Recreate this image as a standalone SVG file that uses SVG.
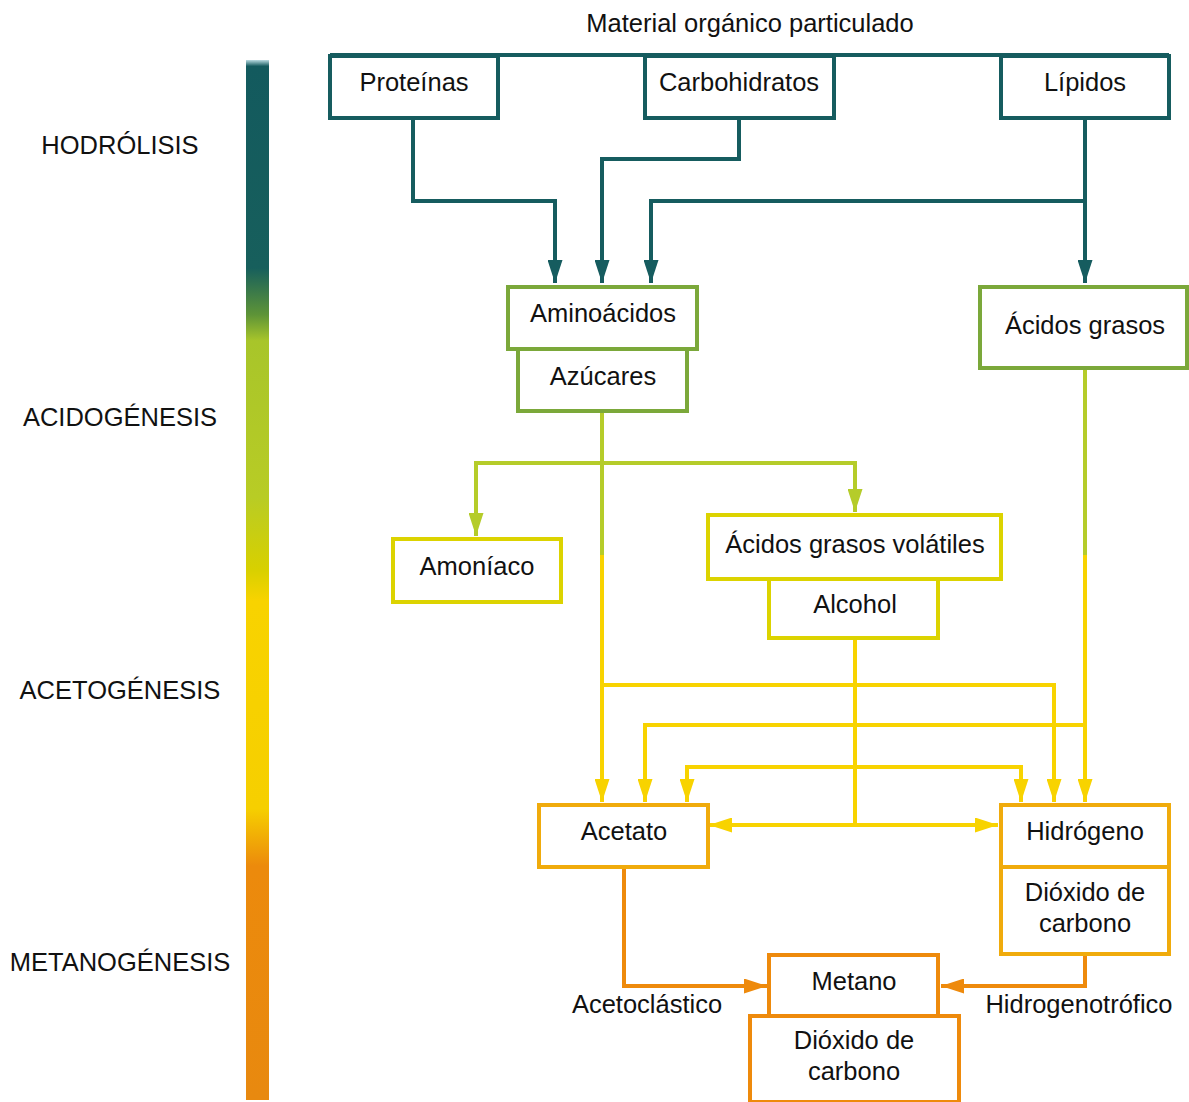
<svg xmlns="http://www.w3.org/2000/svg" width="1189" height="1102" viewBox="0 0 1189 1102">
<defs>
<linearGradient id="bar" x1="0" y1="60" x2="0" y2="1100" gradientUnits="userSpaceOnUse">
<stop offset="0" stop-color="#b9dbe2"/>
<stop offset="0.006" stop-color="#135a5e"/>
<stop offset="0.2" stop-color="#175f5c"/>
<stop offset="0.245" stop-color="#5e9437"/>
<stop offset="0.27" stop-color="#a8c52a"/>
<stop offset="0.42" stop-color="#b8cc25"/>
<stop offset="0.49" stop-color="#d8d000"/>
<stop offset="0.52" stop-color="#f8d300"/>
<stop offset="0.72" stop-color="#f6cf00"/>
<stop offset="0.775" stop-color="#ec8a0c"/>
<stop offset="1" stop-color="#e8890f"/>
</linearGradient>
<marker id="aT" viewBox="0 0 23 15" refX="23" refY="7.5" markerWidth="23" markerHeight="15" markerUnits="userSpaceOnUse" orient="auto-start-reverse"><path d="M0,0 L23,7.5 L0,15 z" fill="#165c5f"/></marker>
<marker id="aG" viewBox="0 0 23 15" refX="23" refY="7.5" markerWidth="23" markerHeight="15" markerUnits="userSpaceOnUse" orient="auto-start-reverse"><path d="M0,0 L23,7.5 L0,15 z" fill="#b5cc2a"/></marker>
<marker id="aY" viewBox="0 0 23 15" refX="23" refY="7.5" markerWidth="23" markerHeight="15" markerUnits="userSpaceOnUse" orient="auto-start-reverse"><path d="M0,0 L23,7.5 L0,15 z" fill="#f8d300"/></marker>
<marker id="aO" viewBox="0 0 23 15" refX="23" refY="7.5" markerWidth="23" markerHeight="15" markerUnits="userSpaceOnUse" orient="auto-start-reverse"><path d="M0,0 L23,7.5 L0,15 z" fill="#ee8a0c"/></marker>
</defs>
<style>
text{font-family:"Liberation Sans",Arial,sans-serif;font-size:25.5px;fill:#111;text-anchor:middle}
.box{fill:#fff;stroke-width:4}
.teal{stroke:#165c5f}
.green{stroke:#7ba83a}
.yg{stroke:#dcd300}
.ac{stroke:#f0ab0c}
.or{stroke:#ee8a0c}
.c{fill:none;stroke-width:4}
.cT{stroke:#165c5f}
.cG{stroke:#b5cc2a}
.cY{stroke:#f8d300}
.cO{stroke:#ee8a0c}
</style>
<rect x="246" y="60" width="23" height="1040" fill="url(#bar)"/>
<text x="120" y="154">HODRÓLISIS</text>
<text x="120" y="426">ACIDOGÉNESIS</text>
<text x="120" y="699">ACETOGÉNESIS</text>
<text x="120" y="971">METANOGÉNESIS</text>
<text x="750" y="32">Material orgánico particulado</text>

<g id="connectors">
<path class="c cT" d="M330,55 H1169"/>
<path class="c cT" d="M413,118 V201 H555 V283" marker-end="url(#aT)"/>
<path class="c cT" d="M739,118 V159 H602 V283" marker-end="url(#aT)"/>
<path class="c cT" d="M1085,118 V283" marker-end="url(#aT)"/>
<path class="c cT" d="M1085,201 H651 V283" marker-end="url(#aT)"/>
<path class="c cG" d="M602,411 V556"/>
<path class="c cG" d="M602,463 H476 V536" marker-end="url(#aG)"/>
<path class="c cG" d="M602,463 H855 V512" marker-end="url(#aG)"/>
<path class="c cG" d="M1085,368 V556"/>
<path class="c cY" d="M602,555 V802" marker-end="url(#aY)"/>
<path class="c cY" d="M602,685 H1054 V802" marker-end="url(#aY)"/>
<path class="c cY" d="M1085,555 V802" marker-end="url(#aY)"/>
<path class="c cY" d="M1085,725 H645 V802" marker-end="url(#aY)"/>
<path class="c cY" d="M855,638 V825"/>
<path class="c cY" d="M855,767 H687 V802" marker-end="url(#aY)"/>
<path class="c cY" d="M855,767 H1021 V802" marker-end="url(#aY)"/>
<path class="c cY" d="M709,825 H998" marker-start="url(#aY)" marker-end="url(#aY)"/>
<path class="c cO" d="M624,867 V986 H767" marker-end="url(#aO)"/>
<path class="c cO" d="M1085,954 V986 H941" marker-end="url(#aO)"/>
</g>

<g id="proteinas"><rect class="box teal" x="330" y="56" width="168" height="62"/><text x="414" y="91">Proteínas</text></g>
<g id="carbohidratos"><rect class="box teal" x="645" y="56" width="189" height="62"/><text x="739" y="91">Carbohidratos</text></g>
<g id="lipidos"><rect class="box teal" x="1001" y="56" width="168" height="62"/><text x="1085" y="91">Lípidos</text></g>

<g id="aminoacidos"><rect class="box green" x="508" y="287" width="189" height="62"/><text x="603" y="322">Aminoácidos</text></g>
<g id="azucares"><rect class="box green" x="518" y="349" width="169" height="62"/><text x="603" y="385">Azúcares</text></g>
<g id="acidos-grasos"><rect class="box green" x="980" y="287" width="207" height="81"/><text x="1085" y="334">Ácidos grasos</text></g>

<g id="amoniaco"><rect class="box yg" x="393" y="539" width="168" height="63"/><text x="477" y="575">Amoníaco</text></g>
<g id="agv"><rect class="box yg" x="708" y="515" width="293" height="64"/><text x="855" y="553">Ácidos grasos volátiles</text></g>
<g id="alcohol"><rect class="box yg" x="769" y="579" width="169" height="59"/><text x="855" y="613">Alcohol</text></g>

<g id="acetato"><rect class="box ac" x="539" y="805" width="169" height="62"/><text x="624" y="840">Acetato</text></g>
<g id="hidrogeno"><rect class="box ac" x="1001" y="805" width="168" height="62"/><text x="1085" y="840">Hidrógeno</text></g>
<g id="dioxido1"><rect class="box ac" x="1001" y="867" width="168" height="87"/><text x="1085" y="901">Dióxido de</text><text x="1085" y="932">carbono</text></g>

<g id="metano"><rect class="box or" x="769" y="955" width="169" height="61"/><text x="854" y="990">Metano</text></g>
<g id="dioxido2"><rect class="box or" x="750" y="1016" width="209" height="86"/><text x="854" y="1049">Dióxido de</text><text x="854" y="1080">carbono</text></g>

<text x="647" y="1013">Acetoclástico</text>
<text x="1079" y="1013">Hidrogenotrófico</text>
</svg>
